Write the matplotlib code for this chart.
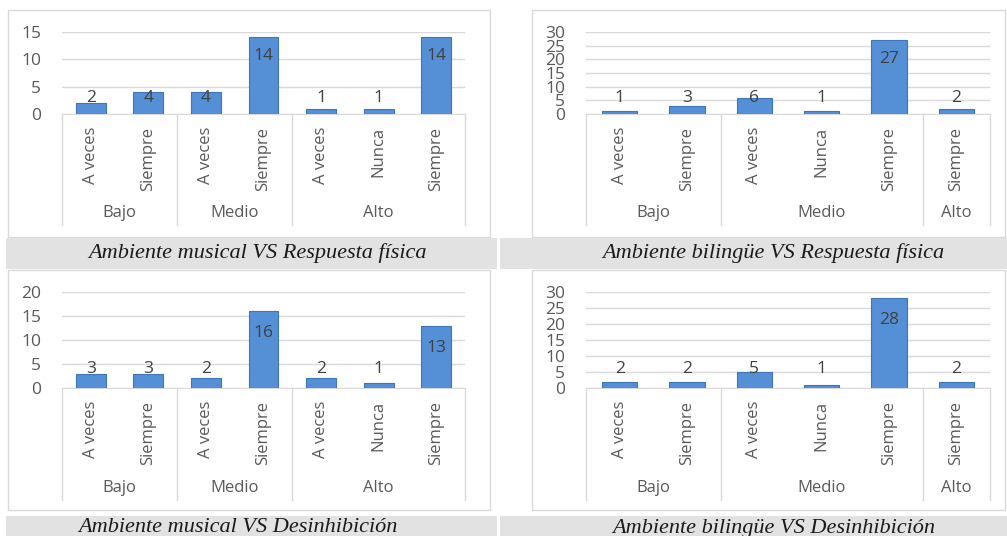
import matplotlib
matplotlib.use("Agg")
import matplotlib.pyplot as plt
from matplotlib.patches import Rectangle

# ── data ──────────────────────────────────────────────────────────────────────
SUB_MUSICAL = ["A veces", "Siempre", "A veces", "Siempre", "A veces", "Nunca", "Siempre"]
GRP_MUSICAL = [("Bajo", 2), ("Medio", 2), ("Alto", 3)]
SUB_BILINGUE = ["A veces", "Siempre", "A veces", "Nunca", "Siempre", "Siempre"]
GRP_BILINGUE = [("Bajo", 2), ("Medio", 3), ("Alto", 1)]

musical_resp = [2, 4, 4, 14, 1, 1, 14]
bilingue_resp = [1, 3, 6, 1, 27, 2]
musical_desinh = [3, 3, 2, 16, 2, 1, 13]
bilingue_desinh = [2, 2, 5, 1, 28, 2]

TITLES = [
    "Ambiente musical VS Respuesta física",
    "Ambiente bilingüe VS Respuesta física",
    "Ambiente musical VS Desinhibición",
    "Ambiente bilingüe VS Desinhibición",
]

# ── style ─────────────────────────────────────────────────────────────────────
W, H = 1007, 536
BAR = "#5590d6"
EDGE = "#3f74b8"
GRID = "#d9d9d9"
TXT = "#595959"
SANS = "Open Sans"

fig = plt.figure(figsize=(W / 100, H / 100), dpi=100)


def px_rect(x0, y0, x1, y1):
    """pixel box (top-left origin) -> figure fraction [l, b, w, h]"""
    return [x0 / W, 1 - y1 / H, (x1 - x0) / W, (y1 - y0) / H]


def frame(x0, y0, x1, y1):
    fig.patches.append(Rectangle((x0 / W, 1 - y1 / H), (x1 - x0) / W, (y1 - y0) / H,
                                 transform=fig.transFigure, fc="white",
                                 ec=GRID, lw=1.0, zorder=-2))


def band(x0, y0, x1, y1, title, cx):
    fig.patches.append(Rectangle((x0 / W, 1 - y1 / H), (x1 - x0) / W, (y1 - y0) / H,
                                 transform=fig.transFigure, fc="#e2e2e2",
                                 ec="none", zorder=-1))
    fig.text(cx / W, 1 - (y0 + y1) / 2 / H, title, ha="center", va="center",
             family="Liberation Serif", style="italic", fontsize=16, color="#1a1a1a")


def panel(box, values, subs, groups, ymax, bottom_px):
    x0, y0, x1, y1 = box
    ax = fig.add_axes(px_rect(x0, y0, x1, y1))
    ax.patch.set_alpha(0)
    hpx = y1 - y0
    n = len(values)
    xs = list(range(n))
    ax.bar(xs, values, width=0.52, color=BAR, edgecolor=EDGE, lw=0.8, zorder=3)
    ax.set_xlim(-0.5, n - 0.5)
    ax.set_ylim(0, ymax)
    ax.set_yticks(range(0, ymax + 1, 5))
    ax.yaxis.grid(True, color=GRID, lw=1.0)
    ax.set_axisbelow(True)
    for s in ["top", "right", "left"]:
        ax.spines[s].set_visible(False)
    ax.spines["bottom"].set_color(GRID)
    ax.tick_params(axis="y", length=0, labelsize=12.5, labelcolor=TXT, pad=15)
    ax.set_xticks([])
    for lab in ax.get_yticklabels():
        lab.set_family(SANS)

    # value labels
    for x, v in zip(xs, values):
        if v / ymax > 0.5:
            yl = v - 0.23 * ymax
        else:
            yl = 0.2 * ymax
        ax.text(x, yl, str(v), ha="center", va="center", fontsize=12.5,
                color="#404040", family=SANS, zorder=4)

    # multi-level category axis
    tr = ax.get_xaxis_transform()
    f = lambda ypx: -(ypx - y1) / hpx
    for x, s in zip(xs, subs):
        ax.text(x, f(y1 + 13), s, rotation=90, ha="center", va="top",
                fontsize=12, color=TXT, family=SANS, transform=tr)
    start = -0.5
    ax.plot([start, start], [0, f(bottom_px)], color=GRID, lw=1.0,
            transform=tr, clip_on=False)
    for name, cnt in groups:
        end = start + cnt
        ax.plot([end, end], [0, f(bottom_px)], color=GRID, lw=1.0,
                transform=tr, clip_on=False)
        ax.text((start + end) / 2, f(bottom_px - 12), name, ha="center",
                va="center", fontsize=12, color=TXT, family=SANS, transform=tr)
        start = end
    return ax


# frames
frame(8, 10, 490, 237)
frame(532, 10, 1005, 237)
frame(8, 270, 490, 510)
frame(532, 270, 1005, 510)

panel((62, 32, 465, 114), musical_resp, SUB_MUSICAL, GRP_MUSICAL, 15, 225)
panel((586, 32, 990, 114), bilingue_resp, SUB_BILINGUE, GRP_BILINGUE, 30, 225)
panel((62, 292, 465, 388), musical_desinh, SUB_MUSICAL, GRP_MUSICAL, 20, 500)
panel((586, 292, 990, 388), bilingue_desinh, SUB_BILINGUE, GRP_BILINGUE, 30, 500)

band(6, 238, 497, 269, TITLES[0], 257)
band(500, 238, 1007, 269, TITLES[1], 773)
band(6, 516, 497, 540, TITLES[2], 238)
band(500, 516, 1007, 540, TITLES[3], 774)

fig.savefig("out.png", dpi=100)
